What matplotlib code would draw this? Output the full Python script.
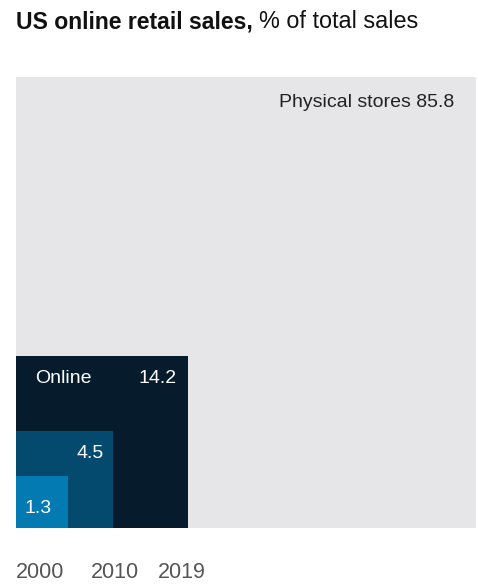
import matplotlib
matplotlib.use("Agg")
import matplotlib.pyplot as plt
from matplotlib.patches import Rectangle
import numpy as np

# Share of US retail sales made online, by year (%)
years = ["2000", "2010", "2019"]
online_share = [1.3, 4.5, 14.2]
physical_share = 85.8
square_colors = ["#037ab2", "#034a6e", "#061c2c"]
background_color = "#e6e6e8"

plt.rcParams["font.family"] = ["Liberation Sans", "DejaVu Sans"]

fig = plt.figure(figsize=(4.78, 5.85), dpi=100)
W, H = 460.0, 451.0
ax = fig.add_axes([16 / 478, 57 / 585, W / 478, H / 585])
ax.set_xlim(0, W)
ax.set_ylim(0, H)
ax.axis("off")

# Whole area = 100% of sales
total = physical_share + online_share[-1]
ax.add_patch(Rectangle((0, 0), W, H, facecolor=background_color, edgecolor="none"))
ax.text(W - 22, H - 107 + 77, f"Physical stores {physical_share}", ha="right",
        va="baseline", fontsize=14, color="#222222")

# Nested squares anchored at bottom-left, area proportional to share
sides = [np.sqrt(v / total * W * H) for v in online_share]
for side, color in sorted(zip(sides, square_colors), key=lambda t: -t[0]):
    ax.add_patch(Rectangle((0, 0), side, side, facecolor=color, edgecolor="none"))

s13, s45, s142 = sides
ax.text(19, s142 - 27, "Online", ha="left", va="baseline", fontsize=14, color="white")
ax.text(s142 - 11, s142 - 27, f"{online_share[2]}", ha="right", va="baseline",
        fontsize=14, color="white")
ax.text(s45 - 9, s45 - 27, f"{online_share[1]}", ha="right", va="baseline",
        fontsize=14, color="white")
ax.text(9, 15, f"{online_share[0]}", ha="left", va="baseline", fontsize=14, color="white")

# Year labels below the squares
for x, yr in zip([0, 75, 142], years):
    ax.text(x, -50, yr, ha="left", va="baseline", fontsize=15.5, color="#555555",
            clip_on=False)

# Title: bold lead-in followed by regular unit text
title_y = 1 - 28 / 585
bold = fig.text(16 / 478, title_y, "US online retail sales,", ha="left", va="baseline",
                fontsize=16.6, fontweight="bold", color="#111111")
fig.canvas.draw()
bb = bold.get_window_extent(renderer=fig.canvas.get_renderer())
fig.text((bb.x1 + 6) / fig.bbox.width, title_y, "% of total sales", ha="left",
         va="baseline", fontsize=16.8, color="#111111")

fig.savefig("out.png", dpi=100)
